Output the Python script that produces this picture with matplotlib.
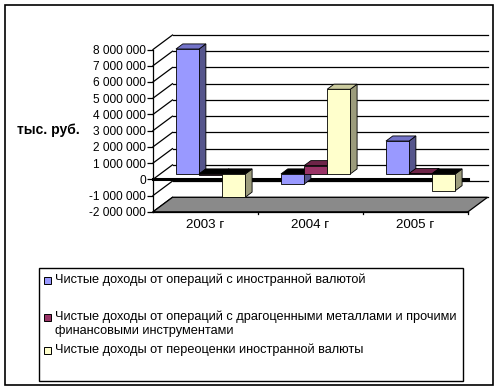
import numpy as np
import matplotlib
matplotlib.use('Agg')
import matplotlib.pyplot as plt
from matplotlib.patches import Polygon, Rectangle
from matplotlib.ticker import FuncFormatter

plt.rcParams['font.family'] = ['Liberation Sans', 'DejaVu Sans']

# ===================== данные =====================
years = ['2003 г', '2004 г', '2005 г']
fx_income = [7700000, -630000, 2030000]
metals_income = [-50000, 510000, 30000]
reval_income = [-1430000, 5220000, -1030000]

series_names = [
    'Чистые доходы от операций с иностранной валютой',
    'Чистые доходы от операций с драгоценными металлами и прочими\nфинансовыми инструментами',
    'Чистые доходы от переоценки иностранной валюты',
]
y_ticks = list(range(-2000000, 8000001, 1000000))

# цвета: фронт, бок, верх
colors = [
    ('#9999FF', '#55558C', '#7373C8'),
    ('#993366', '#5C1F3D', '#6E2448'),
    ('#FFFFCC', '#9C9C7C', '#CCCCA0'),
]

# ===================== геометрия псевдо-3D =====================
W, H = 504, 391
fig = plt.figure(figsize=(W / 100, H / 100), dpi=100)

ax = fig.add_axes([153 / W, 1 - 211.8 / H, 315 / W, (211.8 - 49.5) / H])
ax.set_xlim(0, 3)
ax.set_ylim(-2000000, 8000000)

wall_dx = 19.5 / 105          # глубина по x (в единицах категорий)
wall_dy = 14.5 / 16.23 * 1e6  # глубина по y (в единицах значений)
f_front, f_back = 0.37, 0.72
bar_w = 0.22

ymin = y_ticks[0]

# задняя стена: линии сетки + диагонали боковой стены
for v in y_ticks:
    ax.plot([wall_dx, 3 + wall_dx], [v + wall_dy, v + wall_dy], color='black', lw=0.9,
            clip_on=False, zorder=1)
    ax.plot([0, wall_dx], [v, v + wall_dy], color='black', lw=0.9, clip_on=False, zorder=1)

# пол
floor = Polygon([(0, ymin), (3, ymin), (3 + wall_dx, ymin + wall_dy), (wall_dx, ymin + wall_dy)],
                closed=True, facecolor='#8A8A8A', edgecolor='black', lw=0.9,
                clip_on=False, zorder=2)
ax.add_patch(floor)

# ось категорий на нуле
ax.plot([0, 3], [0, 0], color='black', lw=2.2, clip_on=False, zorder=3)

fdx, fdy = f_front * wall_dx, f_front * wall_dy
bdx, bdy = f_back * wall_dx, f_back * wall_dy


def draw_bar(x0, v, cols):
    front_c, side_c, top_c = cols
    top_v = max(v, 0)
    if v < 0:
        top_c = 'black'
    kw = dict(edgecolor='black', lw=0.6, clip_on=False, zorder=5)
    side = Polygon([(x0 + bar_w + fdx, fdy), (x0 + bar_w + fdx, v + fdy),
                    (x0 + bar_w + bdx, v + bdy), (x0 + bar_w + bdx, bdy)],
                   closed=True, facecolor=side_c, **kw)
    front = Polygon([(x0 + fdx, fdy), (x0 + bar_w + fdx, fdy),
                     (x0 + bar_w + fdx, v + fdy), (x0 + fdx, v + fdy)],
                    closed=True, facecolor=front_c, **kw)
    top = Polygon([(x0 + fdx, top_v + fdy), (x0 + bar_w + fdx, top_v + fdy),
                   (x0 + bar_w + bdx, top_v + bdy), (x0 + bdx, top_v + bdy)],
                  closed=True, facecolor=top_c, **kw)
    for p in (side, top, front):
        ax.add_patch(p)


series = [fx_income, metals_income, reval_income]
for i in range(len(years)):
    group_left = i + 0.48 - 1.5 * bar_w
    for s, vals in enumerate(series):
        draw_bar(group_left + s * bar_w, vals[i], colors[s])

# оформление осей
for sp in ['top', 'right', 'bottom']:
    ax.spines[sp].set_visible(False)
ax.spines['left'].set_linewidth(0.9)
ax.set_yticks(y_ticks)
ax.yaxis.set_major_formatter(FuncFormatter(lambda v, p: f'{int(v):,}'.replace(',', ' ')))
ax.tick_params(axis='y', direction='out', length=4, width=0.9, labelsize=8.6, pad=1)
ax.set_xticks([0.5, 1.5, 2.5])
ax.set_xticklabels(years)
ax.tick_params(axis='x', length=0, labelsize=9.6, pad=5)
ax.patch.set_visible(False)

# засечки категорий на переднем крае пола
for xt in [1, 2, 3]:
    ax.plot([xt, xt], [ymin, ymin - 0.15e6], color='black', lw=0.9, clip_on=False, zorder=3)
ax.plot([0, 3], [ymin, ymin], color='black', lw=0.9, clip_on=False, zorder=3)

fig.text(17 / W, 1 - 130 / H, 'тыс. руб.', fontsize=10, fontweight='bold',
         ha='left', va='center')

# легенда
fig.patches.append(Rectangle((39 / W, 1 - 381 / H), (463 - 39) / W, (381 - 268) / H,
                             transform=fig.transFigure, fill=False, edgecolor='black', lw=1))
legend_y = [280, 317, 350]
for s, name in enumerate(series_names):
    yy = legend_y[s]
    fig.patches.append(Rectangle((44 / W, 1 - (yy + 3.5) / H), 7 / W, 7 / H,
                                 transform=fig.transFigure, facecolor=colors[s][0],
                                 edgecolor='black', lw=0.7))
    fig.text(55 / W, 1 - (yy - 6.5) / H, name, fontsize=9.2, ha='left', va='top',
             linespacing=1.2)

# рамка области диаграммы
fig.patches.append(Rectangle((5 / W, 1 - 385 / H), (493 - 5) / W, (385 - 5) / H,
                             transform=fig.transFigure, fill=False, edgecolor='black', lw=1.2))

plt.savefig('out.png', dpi=100)
